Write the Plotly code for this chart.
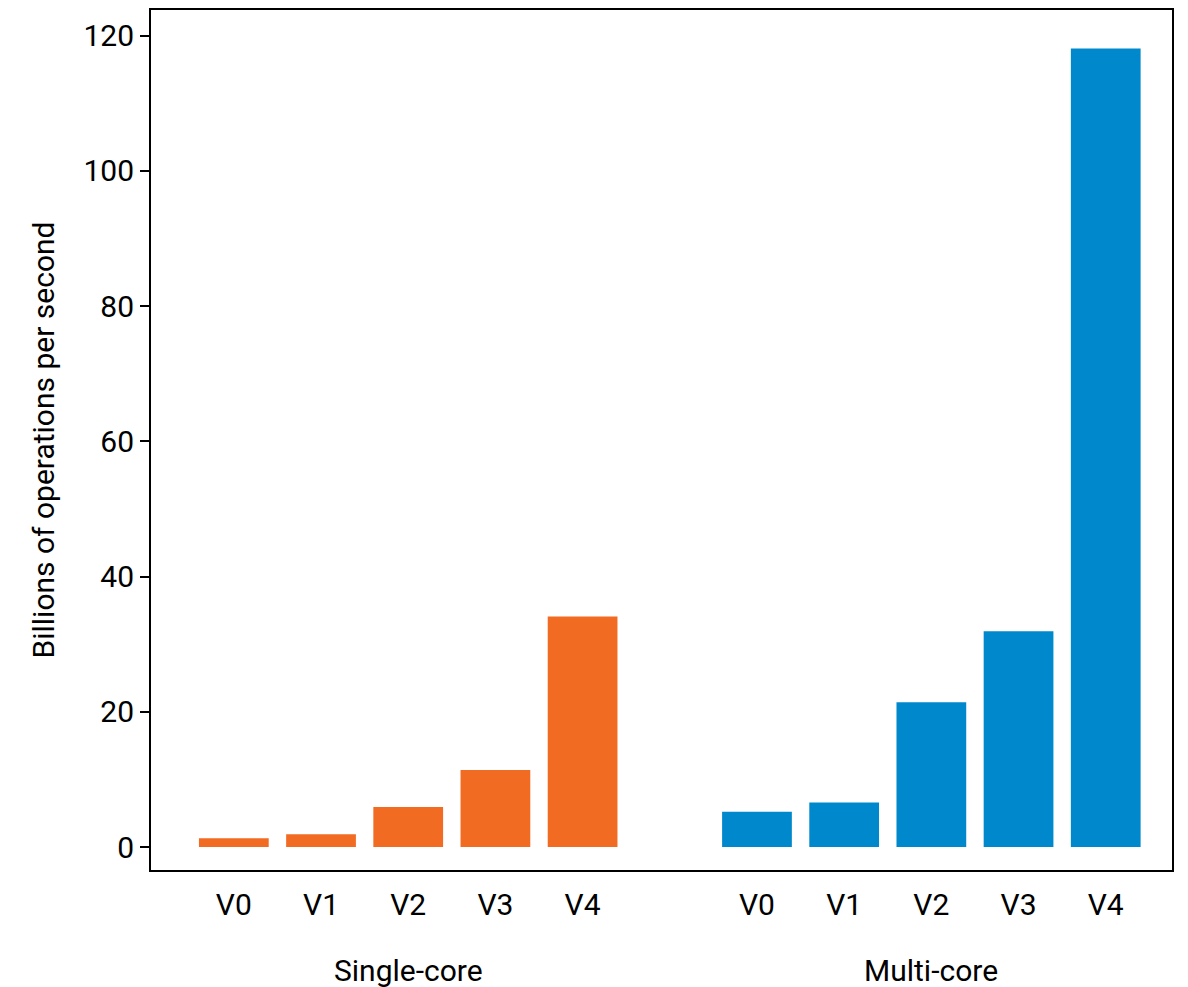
import plotly.graph_objects as go

versions = ["V0", "V1", "V2", "V3", "V4"]
single_core = [1.3, 1.9, 5.9, 11.4, 34.1]
multi_core = [5.2, 6.6, 21.4, 31.9, 118.1]
groups = ["Single-core", "Multi-core"]
y_ticks = [0, 20, 40, 60, 80, 100, 120]

colors = ["#F26B23", "#0088CC"]
FONT = "Roboto"
FS = 30

x_single = list(range(len(versions)))
x_multi = [i + len(versions) + 1 for i in range(len(versions))]

fig = go.Figure()
fig.add_trace(go.Bar(x=x_single, y=single_core, marker=dict(color=colors[0], line_width=0),
                     width=0.8, name=groups[0], showlegend=False))
fig.add_trace(go.Bar(x=x_multi, y=multi_core, marker=dict(color=colors[1], line_width=0),
                     width=0.8, name=groups[1], showlegend=False))

for xs, g in zip([x_single, x_multi], groups):
    fig.add_annotation(x=sum(xs) / len(xs), y=0, xref="x", yref="paper", yanchor="middle",
                       yshift=-100, text=g, showarrow=False,
                       font=dict(family=FONT, size=FS, color="black"))

fig.update_layout(
    width=1188, height=987,
    margin=dict(l=151, r=16, t=8, b=117),
    paper_bgcolor="white", plot_bgcolor="white",
    font=dict(family=FONT, size=FS, color="black"),
)
fig.update_xaxes(
    range=[-0.95, 10.76],
    tickvals=x_single + x_multi, ticktext=versions + versions,
    ticks="", showgrid=False, zeroline=False, ticklabelstandoff=7,
    showline=True, linecolor="black", linewidth=2, mirror=True,
    tickfont=dict(family=FONT, size=FS),
)
fig.update_yaxes(
    range=[-3.4, 123.8], tickvals=y_ticks,
    ticks="outside", ticklen=9, tickwidth=2, tickcolor="black",
    showgrid=False, zeroline=False,
    showline=True, linecolor="black", linewidth=2, mirror=True,
    tickfont=dict(family=FONT, size=FS),
    title=dict(text="Billions of operations per second", font=dict(family=FONT, size=FS), standoff=20),
)

fig.write_html("out.html", config={"displayModeBar": False},
               post_script="document.body.style.margin='0';")
